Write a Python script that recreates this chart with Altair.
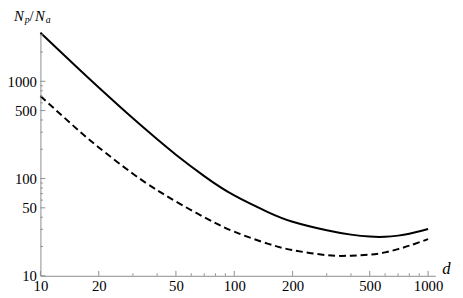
import altair as alt
import pandas as pd

# ---- data ----
d_solid = [10, 15, 20, 30, 40, 50, 70, 100, 150, 200, 300, 400, 500, 600, 700, 800, 1000]
v_solid = [3150, 1470, 863, 416, 254, 176, 106, 67, 45, 36.0, 29.4, 26.5, 25.3, 25.2, 25.9, 27.1, 30.3]
d_dash = [10, 15, 20, 30, 40, 50, 70, 100, 150, 200, 300, 400, 500, 600, 700, 800, 1000]
v_dash = [705, 340, 209, 112, 76, 58, 40, 28.4, 21.3, 18.4, 16.3, 16.1, 16.5, 17.4, 18.8, 20.4, 23.8]

x_major = [10, 20, 50, 100, 200, 500, 1000]
x_minor = [30, 40, 60, 70, 80, 90, 300, 400, 600, 700, 800, 900]
y_major = [10, 50, 100, 500, 1000]
y_minor = [20, 30, 40, 60, 70, 80, 90, 200, 300, 400, 600, 700, 800, 900, 2000, 3000]

W, H = 402, 248
GRAY = "#8c8c8c"
FONT = "Liberation Serif"

xscale = alt.Scale(type="log", domain=[10, 1090], nice=False)
yscale = alt.Scale(type="log", domain=[10, 3200], nice=False)

x_axis = alt.Axis(values=x_major, format="d", ticks=False, grid=False, domainColor=GRAY,
                  domainWidth=1, labelFont=FONT, labelFontSize=15, labelColor="black",
                  labelPadding=3, title=None, labelFlush=False, labelOverlap=False)
y_axis = alt.Axis(values=y_major, format="d", ticks=False, grid=False, domainColor=GRAY,
                  domainWidth=1, labelFont=FONT, labelFontSize=15, labelColor="black",
                  labelPadding=4, title=None, labelOverlap=False)


def X(field):
    return alt.X(f"{field}:Q", scale=xscale, axis=x_axis)


def Y(field):
    return alt.Y(f"{field}:Q", scale=yscale, axis=y_axis)


solid_df = pd.DataFrame({"d": d_solid, "v": v_solid})
dash_df = pd.DataFrame({"d": d_dash, "v": v_dash})

solid = alt.Chart(solid_df).mark_line(color="black", strokeWidth=2, interpolate="natural").encode(
    x=X("d"), y=Y("v"))
dashed = alt.Chart(dash_df).mark_line(color="black", strokeWidth=2, strokeDash=[7, 4],
                                      interpolate="natural").encode(
    x=X("d"), y=Y("v"))


# inward tick marks
def yticks(vals, length):
    return alt.Chart(pd.DataFrame({"v": vals})).mark_rule(color=GRAY, strokeWidth=1).encode(
        y=Y("v"), x=alt.value(0), x2=alt.value(length))


def xticks(vals, length):
    return alt.Chart(pd.DataFrame({"d": vals})).mark_rule(color=GRAY, strokeWidth=1).encode(
        x=X("d"), y=alt.value(H), y2=alt.value(H - length))


def label(text, x, y, size, italic=True):
    return alt.Chart(pd.DataFrame({"t": [text]})).mark_text(
        font=FONT, fontSize=size, fontStyle="italic" if italic else "normal",
        align="left", baseline="alphabetic", color="black").encode(
        text="t:N", x=alt.value(x), y=alt.value(y))


chart = alt.layer(
    solid, dashed,
    yticks(y_major, 5), yticks(y_minor, 2.5), xticks(x_major, 5), xticks(x_minor, 2.5),
    label("d", 409, 246, 17),
    label("N", -27, -11.5, 15), label("p", -16, -9.5, 10),
    label("/", -11, -11.5, 15, italic=False),
    label("N", -5.5, -11.5, 15), label("a", 5.5, -9.5, 10),
).properties(
    width=W, height=H,
    autosize=alt.AutoSizeParams(type="none"),
    padding={"left": 33, "top": 22, "right": 20, "bottom": 20},
).configure_view(stroke=None).configure_axis(
    labelFont=FONT, labelFontSize=15, labelColor="black"
)

chart.save("out.html", embed_options={"renderer": "svg", "actions": False})
